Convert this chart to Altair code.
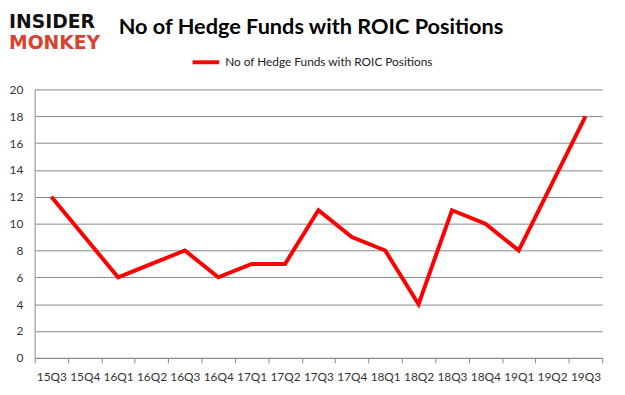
import altair as alt
import pandas as pd

quarters = ["15Q3", "15Q4", "16Q1", "16Q2", "16Q3", "16Q4", "17Q1", "17Q2", "17Q3",
            "17Q4", "18Q1", "18Q2", "18Q3", "18Q4", "19Q1", "19Q2", "19Q3"]
funds = [12, 9, 6, 7, 8, 6, 7, 7, 11, 9, 8, 4, 11, 10, 8, 13, 18]
series_name = "No of Hedge Funds with ROIC Positions"
y_ticks = [0, 2, 4, 6, 8, 10, 12, 14, 16, 18, 20]

df = pd.DataFrame({"quarter": quarters, "funds": funds, "series": [series_name] * len(quarters)})

FONT = "Lato"
GRID = "#868686"

line = alt.Chart(df).mark_line(strokeWidth=4, strokeJoin="miter").encode(
    x=alt.X("quarter:N", sort=quarters, bandPosition=0.5,
            scale=alt.Scale(type="band", paddingInner=0, paddingOuter=0),
            axis=alt.Axis(title=None, labelAngle=0, tickBand="extent", tickSize=5,
                          tickColor=GRID, domainColor=GRID, labelFont=FONT, labelFontSize=12,
                          labelColor="#333333", labelPadding=9, grid=False)),
    y=alt.Y("funds:Q", scale=alt.Scale(domain=[0, 20], nice=False),
            axis=alt.Axis(title=None, values=y_ticks, grid=True, gridColor=GRID,
                          domainColor=GRID, tickSize=0, labelPadding=12,
                          labelFont=FONT, labelFontSize=12, labelColor="#333333")),
    color=alt.Color("series:N", scale=alt.Scale(domain=[series_name], range=["#ff0000"]),
                    legend=alt.Legend(title=None, orient="none", legendX=158, legendY=-43,
                                      symbolType="stroke", symbolSize=729, symbolStrokeWidth=4,
                                      labelFont=FONT, labelFontSize=12, labelColor="#222222",
                                      labelOffset=4, labelLimit=0, padding=0)),
)

title = alt.Chart(pd.DataFrame({"t": [series_name]})).mark_text(
    font=FONT, fontSize=22, fontWeight="bold", color="#000000", align="center", baseline="middle"
).encode(x=alt.value(280), y=alt.value(-63), text="t:N")

logo1 = alt.Chart(pd.DataFrame({"t": ["INSIDER"]})).mark_text(
    font="DejaVu Sans", fontSize=19, fontWeight=900, color="#111111", align="left", baseline="middle"
).encode(x=alt.value(-26), y=alt.value(-68), text="t:N")

logo2 = alt.Chart(pd.DataFrame({"t": ["MONKEY"]})).mark_text(
    font="DejaVu Sans", fontSize=19, fontWeight=900, color="#d8432f", align="left", baseline="middle"
).encode(x=alt.value(-26), y=alt.value(-47), text="t:N")

chart = alt.layer(line, title, logo1, logo2).properties(
    width=575, height=272,
    autosize=alt.AutoSizeParams(type="none"),
    padding={"left": 27, "top": 80, "right": 15, "bottom": 27},
    background="white",
).configure_view(stroke=None)

chart.save("out.html", embed_options={"renderer": "svg", "actions": False})
